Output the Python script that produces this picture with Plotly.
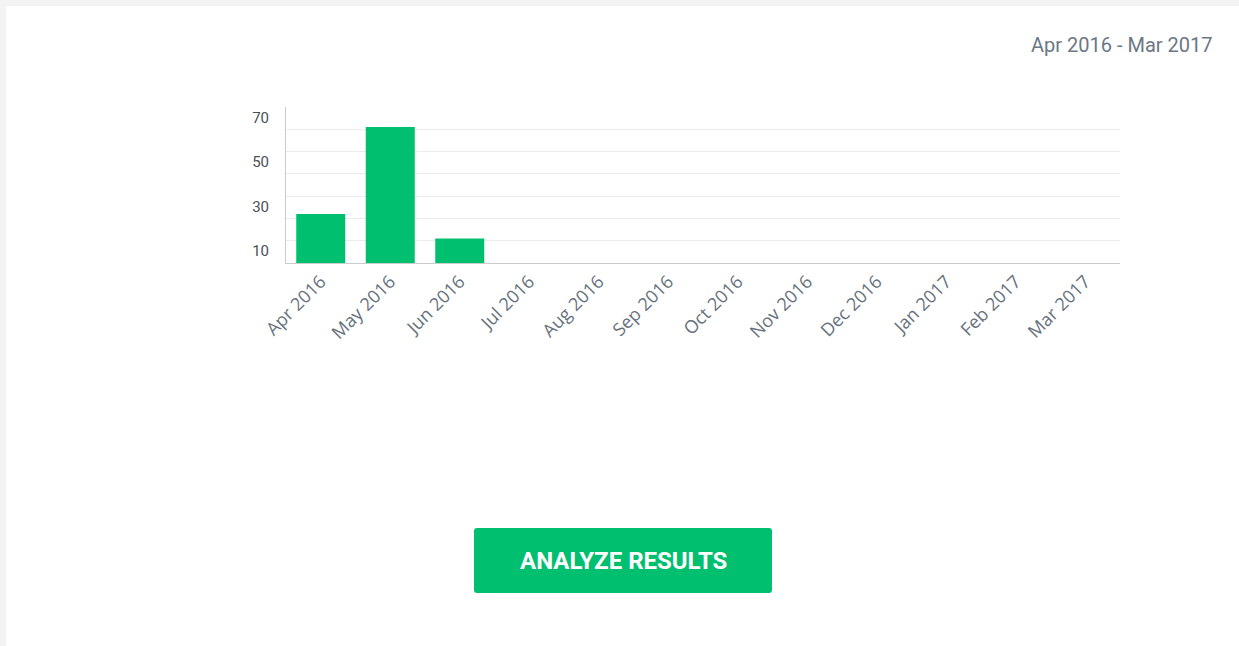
import plotly.graph_objects as go

months = ["Apr 2016", "May 2016", "Jun 2016", "Jul 2016", "Aug 2016", "Sep 2016",
          "Oct 2016", "Nov 2016", "Dec 2016", "Jan 2017", "Feb 2017", "Mar 2017"]
responses = [22, 61, 11, 0, 0, 0, 0, 0, 0, 0, 0, 0]
y_tick_vals = [10, 30, 50, 70]
grid_vals = [10, 20, 30, 40, 50, 60]
date_range_label = "Apr 2016 - Mar 2017"
button_label = "ANALYZE RESULTS"

W, H = 1239, 646
L, R, T, B = 286, 1120, 107, 263  # plot area in pixels


def px(x):
    return (x - L) / (R - L)


def py(y):
    return (B - y) / (B - T)


GREEN = "#00bf6f"

fig = go.Figure()
fig.add_trace(go.Bar(x=months, y=responses, marker=dict(color=GREEN, line=dict(width=0)),
                     hoverinfo="x+y"))

fig.update_layout(
    width=W, height=H,
    margin=dict(l=L, r=W - R, t=T, b=H - B, pad=0),
    paper_bgcolor="white", plot_bgcolor="white",
    showlegend=False,
    bargap=0.295,
    font=dict(family="Roboto, Open Sans, sans-serif"),
    xaxis=dict(
        type="category", tickangle=-45, showgrid=False,
        showline=True, linecolor="#cccccc", linewidth=1,
        ticks="", tickfont=dict(size=18, color="#66717c", family="Open Sans, sans-serif"),
        fixedrange=True,
    ),
    yaxis=dict(
        range=[0, 70], tickmode="array", tickvals=y_tick_vals,
        showgrid=False, zeroline=False,
        showline=True, linecolor="#cccccc", linewidth=1,
        ticks="", ticklabelposition="outside bottom",
        tickfont=dict(size=15, color="#4a4f55"), ticklabelstandoff=13,
        minor=dict(tickmode="array", tickvals=grid_vals, showgrid=True,
                   gridcolor="#ebebeb", gridwidth=1, ticks=""),
        fixedrange=True,
    ),
)

# page frame strips (light gray border at top and left)
fig.add_shape(type="rect", xref="paper", yref="paper",
              x0=px(0), x1=px(W), y0=py(0), y1=py(6),
              fillcolor="#f3f3f3", line=dict(width=0), layer="below")
fig.add_shape(type="rect", xref="paper", yref="paper",
              x0=px(0), x1=px(6), y0=py(0), y1=py(H),
              fillcolor="#f3f3f3", line=dict(width=0), layer="below")

# button with rounded corners
bx0, bx1, by0, by1, r = 474, 772, 528, 593, 3
path = (f"M {px(bx0 + r)},{py(by0)} L {px(bx1 - r)},{py(by0)} "
        f"Q {px(bx1)},{py(by0)} {px(bx1)},{py(by0 + r)} "
        f"L {px(bx1)},{py(by1 - r)} Q {px(bx1)},{py(by1)} {px(bx1 - r)},{py(by1)} "
        f"L {px(bx0 + r)},{py(by1)} Q {px(bx0)},{py(by1)} {px(bx0)},{py(by1 - r)} "
        f"L {px(bx0)},{py(by0 + r)} Q {px(bx0)},{py(by0)} {px(bx0 + r)},{py(by0)} Z")
fig.add_shape(type="path", xref="paper", yref="paper", path=path,
              fillcolor=GREEN, line=dict(width=0))

fig.add_annotation(text=button_label, xref="paper", yref="paper",
                   x=px((bx0 + bx1) / 2), y=py((by0 + by1) / 2),
                   xanchor="center", yanchor="middle", showarrow=False,
                   font=dict(size=24, color="white", family="Roboto, sans-serif", weight="bold"))

fig.add_annotation(text=date_range_label, xref="paper", yref="paper",
                   x=px(1214), y=py(45), xanchor="right", yanchor="middle",
                   showarrow=False,
                   font=dict(size=20, color="#6b7784", family="Roboto, sans-serif"))

fig.write_html("out.html", config={"displayModeBar": False},
               post_script="document.body.style.margin='0';")
